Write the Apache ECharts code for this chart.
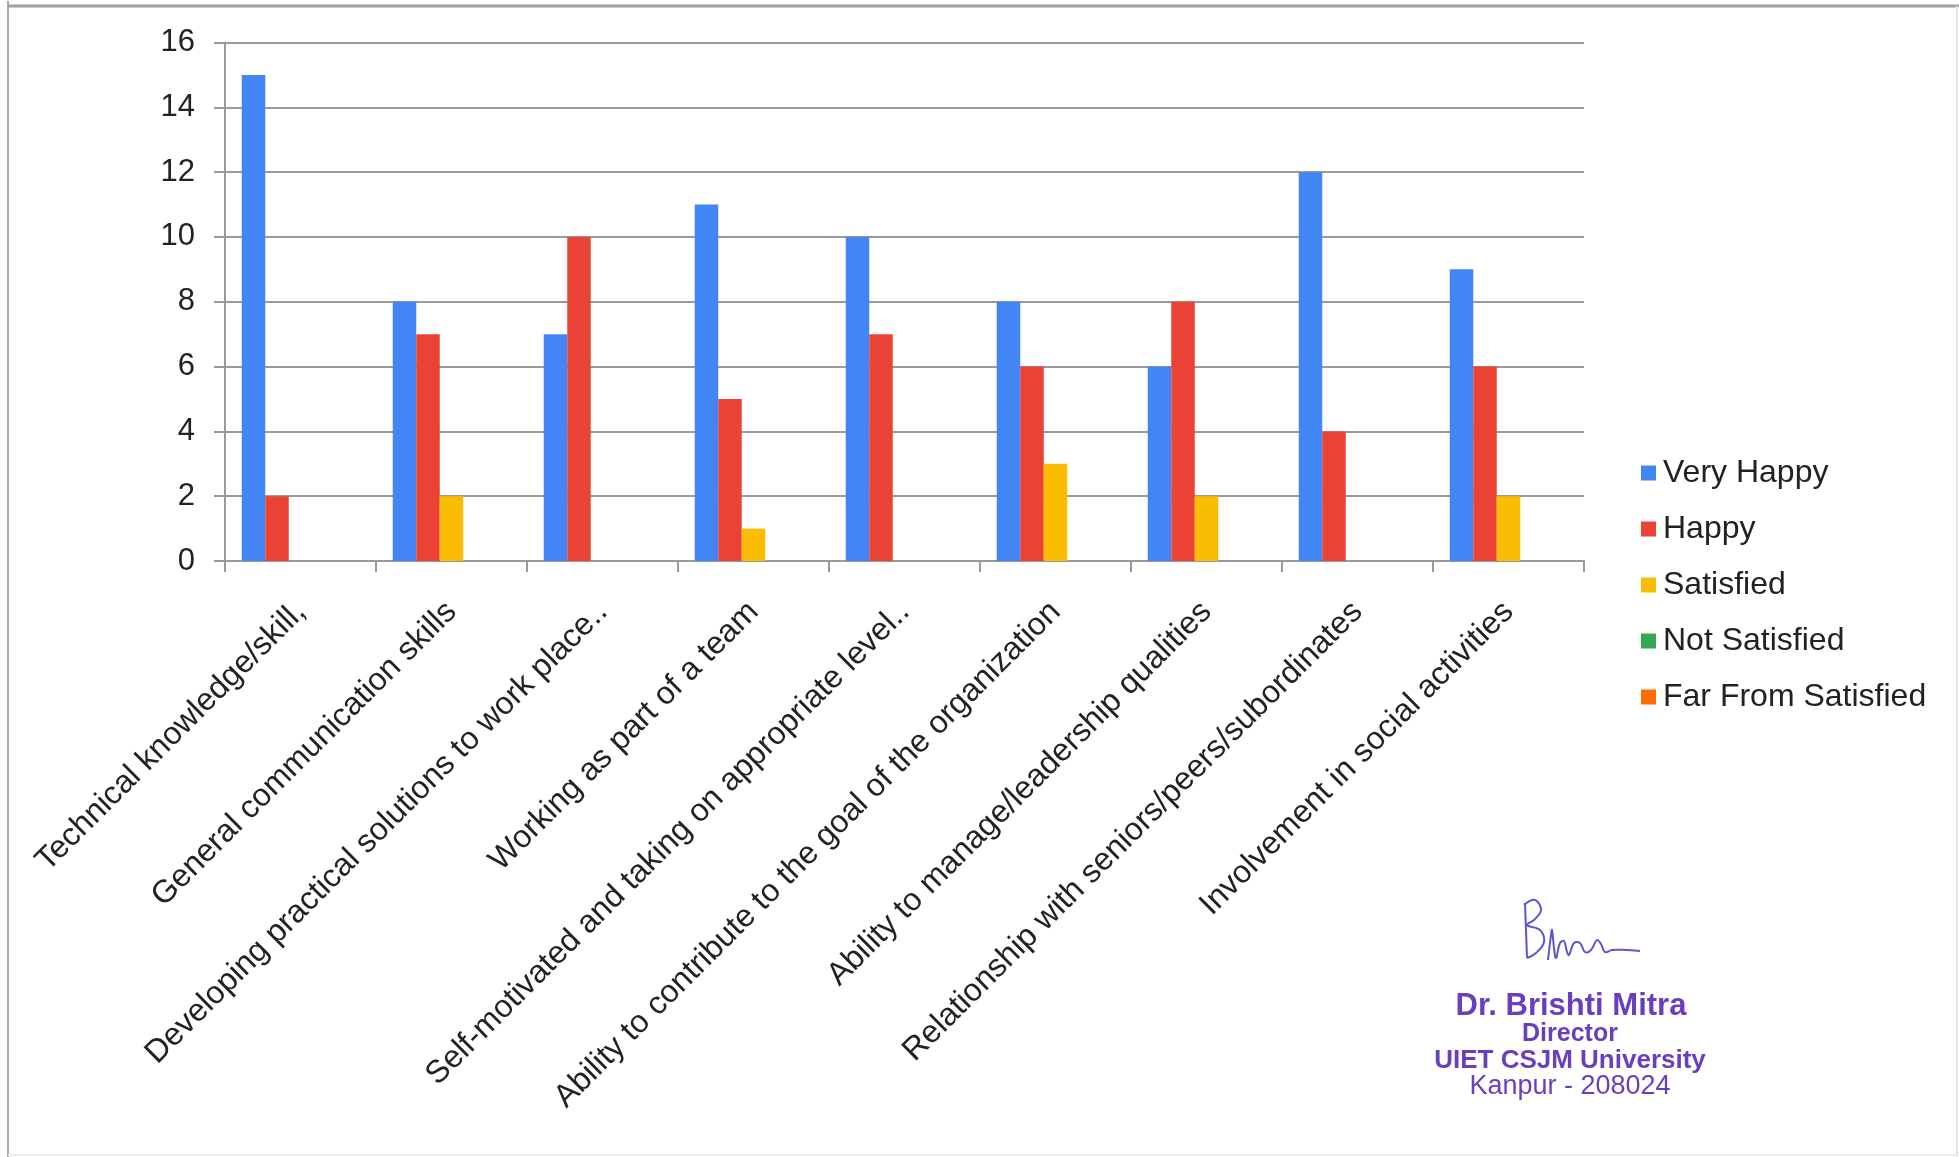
<!DOCTYPE html>
<html>
<head>
<meta charset="utf-8">
<script src="https://cdn.jsdelivr.net/npm/echarts@6/dist/echarts.min.js"></script>
<style>
  html, body { margin: 0; padding: 0; background: #ffffff; }
  #chart { width: 1959px; height: 1157px; }
</style>
</head>
<body>
<div id="chart"></div>
<script>
// ---- data ----
const categories = [
  "Technical knowledge/skill,",
  "General communication skills",
  "Developing practical solutions to work place..",
  "Working as part of a team",
  "Self-motivated and taking on appropriate level..",
  "Ability to contribute to the goal of the organization",
  "Ability to manage/leadership qualities",
  "Relationship with seniors/peers/subordinates",
  "Involvement in social activities"
];
const seriesNames = ["Very Happy", "Happy", "Satisfied", "Not Satisfied", "Far From Satisfied"];
const veryHappy     = [15, 8, 7, 11, 10, 8, 6, 12, 9];
const happy         = [2, 7, 10, 5, 7, 6, 8, 4, 6];
const satisfied     = [0, 2, 0, 1, 0, 3, 2, 0, 2];
const notSatisfied  = [0, 0, 0, 0, 0, 0, 0, 0, 0];
const farFromSatisfied = [0, 0, 0, 0, 0, 0, 0, 0, 0];
const yTicks = [0, 2, 4, 6, 8, 10, 12, 14, 16];
const signatureLines = ["Dr. Brishti Mitra", "Director", "UIET CSJM University", "Kanpur - 208024"];

const colors = ["#4285f4", "#ea4335", "#fbbc04", "#34a853", "#ff6d01"];
const seriesData = [veryHappy, happy, satisfied, notSatisfied, farFromSatisfied];

const chart = echarts.init(document.getElementById('chart'), null, { renderer: 'canvas' });
const FONT = '"Liberation Sans", Arial, sans-serif';
const gridColor = '#9a9a9a';
const stampColor = '#6a3fbd';
const inkColor = '#5b57d1';

const option = {
  backgroundColor: '#ffffff',
  animation: false,
  color: colors,
  grid: { left: 225, right: 375, top: 42.5, bottom: 596, containLabel: false },
  legend: {
    orient: 'vertical',
    left: 1636,
    top: 452,
    itemWidth: 15,
    itemHeight: 15,
    itemGap: 24,
    icon: 'rect',
    data: seriesNames,
    textStyle: { fontFamily: FONT, fontSize: 32, color: '#222', lineHeight: 32, padding: [0, 0, 0, 2] }
  },
  xAxis: {
    type: 'category',
    data: categories,
    axisLine: { show: true, lineStyle: { color: gridColor, width: 2 } },
    axisTick: { show: true, length: 11, alignWithLabel: false, lineStyle: { color: gridColor, width: 2 } },
    axisLabel: { interval: 0, rotate: 45, margin: 46, fontFamily: FONT, fontSize: 32, color: '#222' },
    splitLine: { show: false }
  },
  yAxis: {
    type: 'value',
    min: yTicks[0],
    max: yTicks[yTicks.length - 1],
    interval: 2,
    axisLine: { show: true, lineStyle: { color: gridColor, width: 2 } },
    axisTick: { show: true, length: 11, lineStyle: { color: gridColor, width: 2 } },
    axisLabel: { margin: 30, fontFamily: FONT, fontSize: 31, color: '#222' },
    splitLine: { show: true, lineStyle: { color: gridColor, width: 2 } }
  },
  series: seriesNames.map((name, i) => ({
    name: name,
    type: 'bar',
    data: seriesData[i],
    barWidth: 23.5,
    barGap: '0%',
    itemStyle: { color: colors[i] }
  })),
  graphic: [
    // frame
    { type: 'line', silent: true, shape: { x1: 8, y1: 1, x2: 8, y2: 1157 }, style: { stroke: '#a8a8a8', lineWidth: 2 } },
    { type: 'line', silent: true, shape: { x1: 8, y1: 6, x2: 1959, y2: 6 }, style: { stroke: '#a0a0a0', lineWidth: 3 } },
    { type: 'line', silent: true, shape: { x1: 1957, y1: 6, x2: 1957, y2: 1157 }, style: { stroke: '#e2e2e2', lineWidth: 2 } },
    { type: 'line', silent: true, shape: { x1: 8, y1: 1155, x2: 1959, y2: 1155 }, style: { stroke: '#ececec', lineWidth: 2 } },
    // handwritten signature
    { type: 'polyline', silent: true, shape: { smooth: 0.3, points: [[1525,903],[1526,930],[1527,958]] }, style: { stroke: inkColor, lineWidth: 2, fill: null } },
    { type: 'polyline', silent: true, shape: { smooth: 0.4, points: [[1524,905],[1535,900],[1541,910],[1534,920],[1527,925],[1540,930],[1544,942],[1536,953],[1527,958]] }, style: { stroke: inkColor, lineWidth: 2, fill: null } },
    { type: 'polyline', silent: true, shape: { smooth: 0.4, points: [[1548,960],[1551,935],[1552,930],[1554,948],[1556,958],[1560,943],[1564,941],[1567,952],[1569,955],[1574,943],[1580,943],[1585,952],[1591,950],[1597,940],[1601,944],[1605,952],[1612,950],[1625,950],[1640,951]] }, style: { stroke: inkColor, lineWidth: 2, fill: null } },
    // stamp
    { type: 'text', silent: true, x: 1571, y: 1006, style: { text: signatureLines[0], fill: stampColor, font: 'bold 31px ' + FONT, textAlign: 'center', textVerticalAlign: 'middle' } },
    { type: 'text', silent: true, x: 1570, y: 1034, style: { text: signatureLines[1], fill: stampColor, font: 'bold 25px ' + FONT, textAlign: 'center', textVerticalAlign: 'middle' } },
    { type: 'text', silent: true, x: 1570, y: 1061, style: { text: signatureLines[2], fill: stampColor, font: 'bold 26px ' + FONT, textAlign: 'center', textVerticalAlign: 'middle' } },
    { type: 'text', silent: true, x: 1570, y: 1087, style: { text: signatureLines[3], fill: stampColor, font: '27px ' + FONT, textAlign: 'center', textVerticalAlign: 'middle' } }
  ]
};
chart.setOption(option);
</script>
</body>
</html>
